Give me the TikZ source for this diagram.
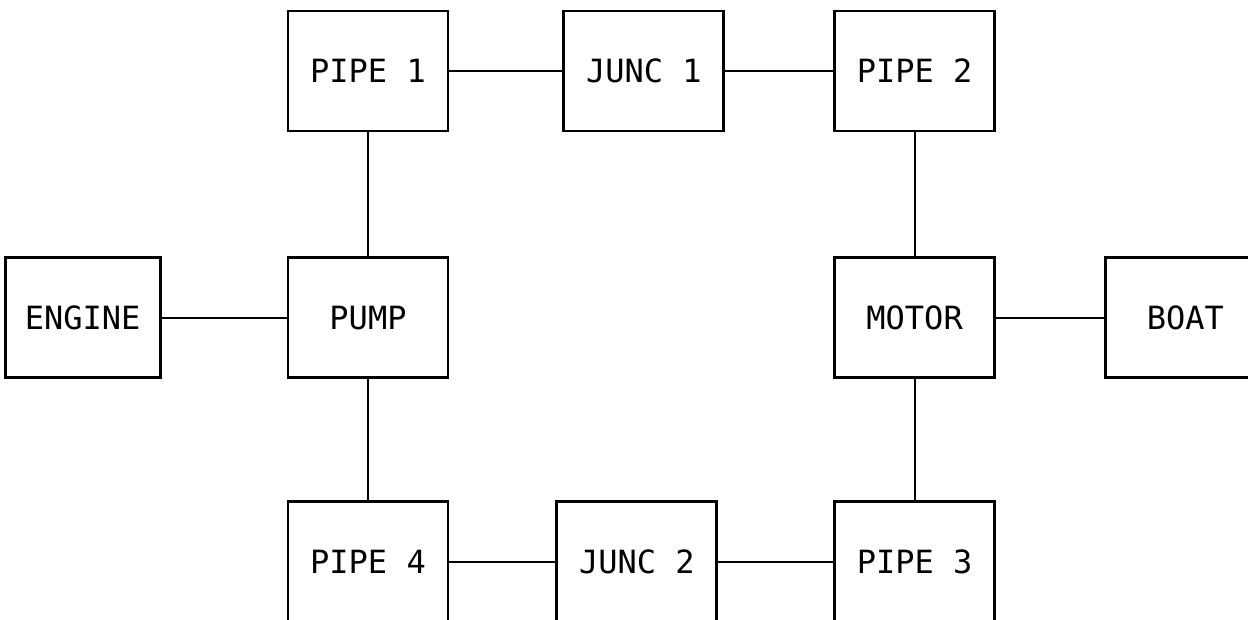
\documentclass[tikz,border=0pt]{standalone}
\usepackage{fontspec}
\newfontfamily\blockfont{DejaVu Sans Mono}
\usepackage{tikz}
\usetikzlibrary{positioning}

\begin{document}
\begin{tikzpicture}[x=1pt,y=-1pt]
\tikzset{
 box/.style={draw,line width=2.8pt,minimum width=160pt,minimum height=120pt,inner sep=0pt,align=center,font=\blockfont\fontsize{32}{36}\selectfont},
 link/.style={line width=2pt}
}
\useasboundingbox (0,0) rectangle (1248,620);
\node[box] at (368,71) (pipe1) {PIPE 1};
\node[box,right=113pt of pipe1] (junc1) {JUNC 1};
\node[box,right=108pt of junc1] (pipe2) {PIPE 2};
\node[box,below=124pt of pipe1] (pump) {PUMP};
\node[box,left=125pt of pump,minimum width=155pt] (engine) {ENGINE};
\node[box,below=124pt of pipe2] (motor) {MOTOR};
\node[box,right=108pt of motor] (boat) {BOAT};
\node[box,below=121pt of pump] (pipe4) {PIPE 4};
\node[box,right=106pt of pipe4] (junc2) {JUNC 2};
\node[box,below=121pt of motor] (pipe3) {PIPE 3};
\draw[link] (pipe1)--(junc1);
\draw[link] (junc1)--(pipe2);
\draw[link] (pipe1)--(pump);
\draw[link] (engine)--(pump);
\draw[link] (pump)--(pipe4);
\draw[link] (pipe2)--(motor);
\draw[link] (motor)--(boat);
\draw[link] (motor)--(pipe3);
\draw[link] (pipe4)--(junc2);
\draw[link] (junc2)--(pipe3);
\end{tikzpicture}
\end{document}
